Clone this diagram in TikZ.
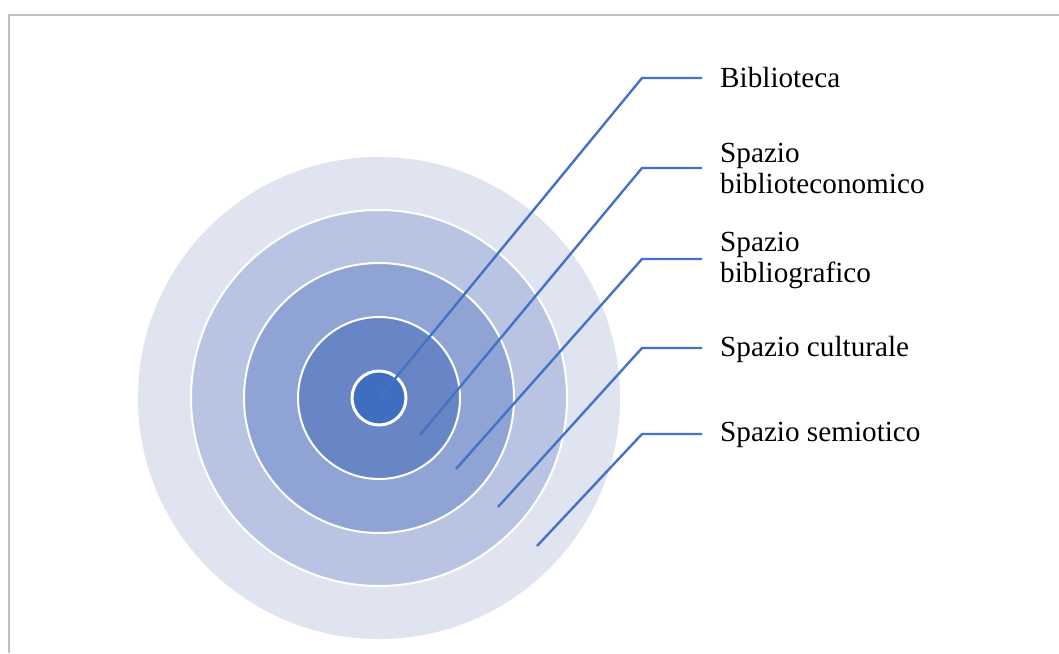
\documentclass[tikz,border=0pt]{standalone}
\usepackage{fontspec}
\setmainfont{Liberation Serif}
\definecolor{ring1}{HTML}{DFE4F0}
\definecolor{ring2}{HTML}{B8C4E2}
\definecolor{ring3}{HTML}{8FA4D4}
\definecolor{ring4}{HTML}{6886C5}
\definecolor{ring5}{HTML}{3F6DBF}
\definecolor{conncol}{HTML}{4472C4}
\definecolor{framecol}{HTML}{BFBFBF}
\tikzset{
  disc/.style={circle, inner sep=0pt, draw=white, line width=2pt},
  conn/.style={draw=conncol, line width=2.4pt},
  lbl/.style={anchor=west, inner sep=0pt, align=left, font=\fontsize{29.2}{31}\selectfont},
}
\begin{document}
\begin{tikzpicture}[x=1pt,y=-1pt]
\useasboundingbox (0,0) rectangle (1059,653);
\fill[white] (0,0) rectangle (1059,653);
\draw[framecol, line width=2pt] (8.5,653) -- (8.5,14.5) -- (1059,14.5);
% concentric discs
\node[circle, inner sep=0pt, fill=ring1, minimum size=482pt] (c1) at (379,398) {};
\node[disc, fill=ring2, minimum size=376pt] (c2) at (c1.center) {};
\node[disc, fill=ring3, minimum size=270pt] (c3) at (c1.center) {};
\node[disc, fill=ring4, minimum size=162pt] (c4) at (c1.center) {};
\node[disc, fill=ring5, minimum size=54pt, line width=3pt] (c5) at (c1.center) {};
% connector points
\coordinate (s1) at (380,397);
\coordinate (s2) at (420,435);
\coordinate (s3) at (456,469);
\coordinate (s4) at (498,507);
\coordinate (s5) at (537,546);
\coordinate (k1) at (642,78);
\coordinate (k2) at (642,168);
\coordinate (k3) at (642,259);
\coordinate (k4) at (642,348);
\coordinate (k5) at (642,434);
\coordinate (e1) at (702,78);
\coordinate (e2) at (702,168);
\coordinate (e3) at (702,259);
\coordinate (e4) at (702,348);
\coordinate (e5) at (702,434);
% labels
\node[lbl] (t1) at (720,78) {Biblioteca};
\node[lbl] (t2) at (720,168) {Spazio\\biblioteconomico};
\node[lbl] (t3) at (720,260) {Spazio\\bibliografico};
\node[lbl] (t4) at (720,349) {Spazio culturale};
\node[lbl] (t5) at (720,435) {Spazio semiotico};
% connectors
\draw[conn] (s1) -- (k1) -- (e1);
\draw[conn] (s2) -- (k2) -- (e2);
\draw[conn] (s3) -- (k3) -- (e3);
\draw[conn] (s4) -- (k4) -- (e4);
\draw[conn] (s5) -- (k5) -- (e5);
\end{tikzpicture}
\end{document}
